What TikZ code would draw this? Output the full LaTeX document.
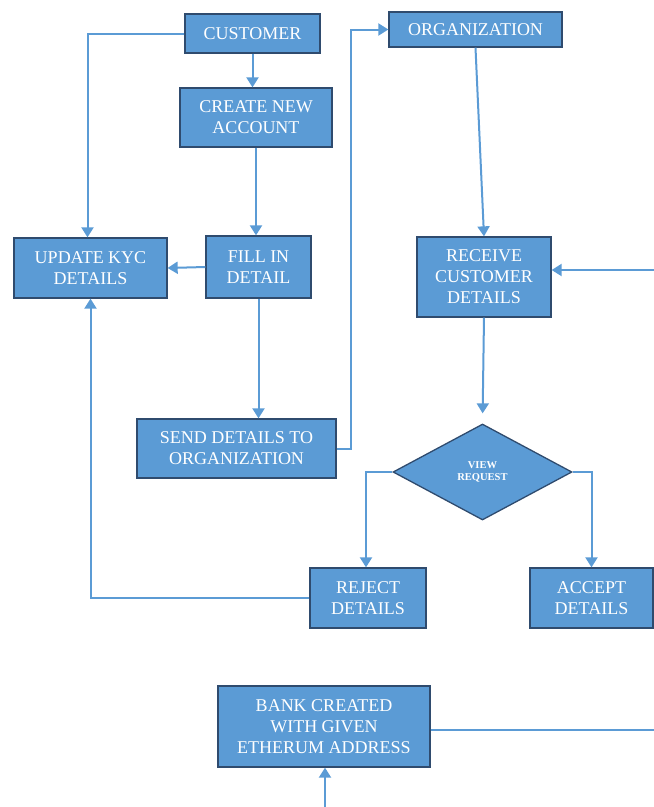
\documentclass[tikz,border=0pt]{standalone}
\usepackage{fontspec}
\setmainfont{Liberation Serif}
\usetikzlibrary{arrows.meta}
\usetikzlibrary{shapes.geometric}
\definecolor{boxblue}{HTML}{5B9BD5}
\definecolor{boxedge}{HTML}{2F4B6E}
\tikzset{>={Triangle[length=10pt,width=12pt]}}
\tikzset{
    stage/.style={draw=boxedge, line width=1.3pt, fill=boxblue, text=white, align=center,
        inner sep=0pt, font=\fontsize{18}{21}\selectfont},
    decide/.style={stage, diamond, font=\fontsize{10.5}{12}\selectfont\bfseries},
    flow/.style={->, draw=boxblue, line width=2pt},
}

\begin{document}
\begin{tikzpicture}[x=1pt, y=-1pt]
    \useasboundingbox(0, 0)rectangle(654, 807);
    % customer side
    \node[stage, minimum width=135pt, minimum height=39pt](cust)at(252.5, 33.5){CUSTOMER};
    \node[stage, minimum width=152pt, minimum height=59pt](acct)at(256, 117.5){CREATE NEW\\ACCOUNT};
    \node[stage, minimum width=153pt, minimum height=60pt](kyc)at(90.5, 268){UPDATE KYC\\DETAILS};
    \node[stage, minimum width=105pt, minimum height=62pt](fill)at(258.5, 267){FILL IN\\DETAIL};
    \node[stage, minimum width=199pt, minimum height=59pt](send)at(236.5, 448.5){SEND DETAILS TO\\ORGANIZATION};
    % organization side
    \node[stage, minimum width=173pt, minimum height=35pt](org)at(475.5, 29.5){ORGANIZATION};
    \node[stage, minimum width=134pt, minimum height=80pt](recv)at(484, 277){RECEIVE\\CUSTOMER\\DETAILS};
    \node[decide, minimum width=179pt, minimum height=96pt](view)at(482.5, 472){VIEW\\REQUEST};
    \node[stage, minimum width=116pt, minimum height=60pt](rej)at(368, 598){REJECT\\DETAILS};
    \node[stage, minimum width=123pt, minimum height=60pt](acc)at(591.5, 598){ACCEPT\\DETAILS};
    \node[stage, minimum width=212pt, minimum height=81pt](bank)at(324, 726.5){BANK CREATED\\WITH GIVEN\\ETHERUM ADDRESS};
    \coordinate(rin)at(654, 270);
    \coordinate(bout)at(654, 730);
    \coordinate(bin)at(325, 807);

    \draw[flow](cust.west)-|([xshift=-3pt]kyc.north);
    \draw[flow](cust.south)--(cust.south |- acct.north);
    \draw[flow](acct.south)--(acct.south |- fill.north);
    \draw[flow](fill.west)--(kyc.east);
    \draw[flow](fill.south)--(fill.south |- send.north);
    \draw[flow](send.east)--++(14, 0)|-(org.west);
    \draw[flow](org.south)--(recv.north);
    \draw[flow](rin)--(rin -| recv.east);
    \draw[flow, shorten >=10pt](recv.south)--(view.north);
    \draw[flow](view.west)-|([xshift=-2pt]rej.north);
    \draw[flow](view.east)-|(acc.north);
    \draw[flow](rej.west)-|(kyc.south);
    \draw[flow, -](bank.east |- bout)--(bout);
    \draw[flow](bin)--(bin |- bank.south);
\end{tikzpicture}
\end{document}
